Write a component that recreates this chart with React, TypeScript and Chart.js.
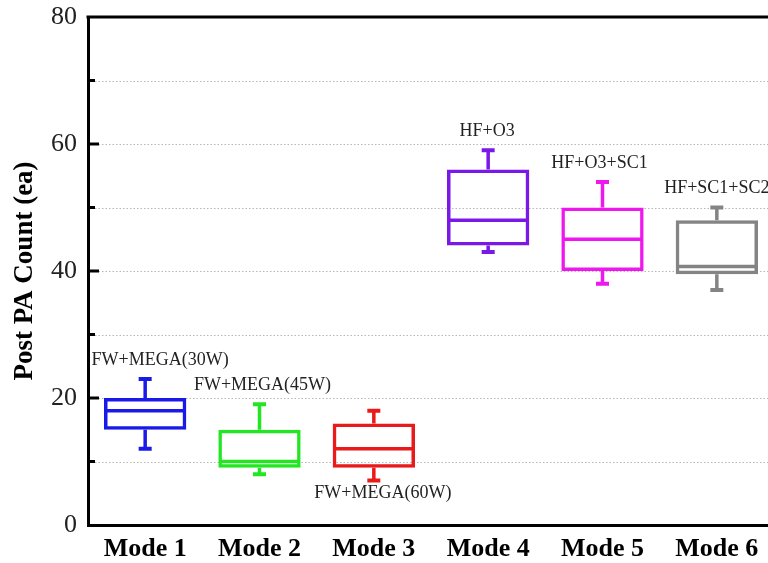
import React, { useEffect, useRef } from "react";
import { Chart, registerables } from "chart.js";

Chart.register(...registerables);

const categories = ["Mode 1", "Mode 2", "Mode 3", "Mode 4", "Mode 5", "Mode 6"];
const groupLabels = ["FW+MEGA(30W)", "FW+MEGA(45W)", "FW+MEGA(60W)", "HF+O3", "HF+O3+SC1", "HF+SC1+SC2"];
const whiskerLow = [12, 8, 7, 43, 38, 37];
const quartile1 = [15, 9, 9, 44, 40, 39.5];
const medians = [18, 10, 12, 48, 45, 40.7];
const quartile3 = [20, 15, 16, 56, 50, 48];
const whiskerHigh = [23, 19, 18, 59, 54, 50];
const colors = ["#1a1ae8", "#22e622", "#e81a1a", "#7a18e8", "#ee18ee", "#848484"];
const gridValues = [10, 20, 30, 40, 50, 60, 70];
const majorTicks = [20, 40, 60];

// label placement: above (true) or below (false) the whiskers, with small x nudges (px)
const labelAbove = [true, true, false, true, true, true];
const labelNudgeX = [15, 3, 9, -1, -3, 0];

const boxExtras = {
  id: "boxExtras",
  beforeDatasetsDraw(chart: any) {
    const { ctx, chartArea, scales } = chart;
    const y = scales.y;
    ctx.save();
    ctx.strokeStyle = "rgba(170,170,170,0.85)";
    ctx.lineWidth = 1;
    ctx.setLineDash([1.5, 2]);
    gridValues.forEach((v) => {
      const py = Math.round(y.getPixelForValue(v)) + 0.5;
      ctx.beginPath();
      ctx.moveTo(chartArea.left, py);
      ctx.lineTo(chartArea.right, py);
      ctx.stroke();
    });
    ctx.restore();
  },
  afterDatasetsDraw(chart: any) {
    const { ctx, scales } = chart;
    const x = scales.x;
    const y = scales.y;
    const meta = chart.getDatasetMeta(0);
    ctx.save();
    ctx.setLineDash([]);
    ctx.lineCap = "butt";
    categories.forEach((_, i) => {
      const bar = meta.data[i];
      const cx = x.getPixelForValue(i);
      const half = bar.width / 2;
      ctx.strokeStyle = colors[i];
      ctx.lineWidth = 3.5;
      const pm = y.getPixelForValue(medians[i]);
      ctx.beginPath();
      ctx.moveTo(cx - half + 2, pm);
      ctx.lineTo(cx + half - 2, pm);
      ctx.stroke();
      const pHi = y.getPixelForValue(whiskerHigh[i]);
      const pQ3 = y.getPixelForValue(quartile3[i]);
      const pLo = y.getPixelForValue(whiskerLow[i]);
      const pQ1 = y.getPixelForValue(quartile1[i]);
      ctx.beginPath();
      ctx.moveTo(cx, pQ3);
      ctx.lineTo(cx, pHi);
      ctx.moveTo(cx, pQ1);
      ctx.lineTo(cx, pLo);
      ctx.stroke();
      ctx.lineWidth = 4;
      ctx.beginPath();
      ctx.moveTo(cx - 6.5, pHi);
      ctx.lineTo(cx + 6.5, pHi);
      ctx.moveTo(cx - 6.5, pLo);
      ctx.lineTo(cx + 6.5, pLo);
      ctx.stroke();
      ctx.fillStyle = "#222";
      ctx.font = "18px 'Liberation Serif'";
      ctx.textAlign = "center";
      ctx.textBaseline = "middle";
      const ly = labelAbove[i] ? pHi - 19 : pLo + 13;
      ctx.fillText(groupLabels[i], cx + labelNudgeX[i], ly);
    });
    ctx.restore();
  },
  afterDraw(chart: any) {
    const { ctx, chartArea, scales } = chart;
    const y = scales.y;
    ctx.save();
    ctx.strokeStyle = "#000";
    ctx.lineWidth = 3;
    ctx.beginPath();
    ctx.moveTo(chartArea.left - 1.5, chartArea.top);
    ctx.lineTo(chartArea.right + 10, chartArea.top);
    ctx.stroke();
    gridValues.forEach((v) => {
      const py = y.getPixelForValue(v);
      const len = majorTicks.includes(v) ? 11 : 7;
      ctx.beginPath();
      ctx.moveTo(chartArea.left, py);
      ctx.lineTo(chartArea.left + len, py);
      ctx.stroke();
    });
    ctx.restore();
  },
};

export default function App() {
  const ref = useRef<HTMLCanvasElement | null>(null);
  useEffect(() => {
    if (!ref.current) return;
    const chart = new Chart(ref.current, {
      type: "bar",
      data: {
        labels: categories,
        datasets: [
          {
            data: categories.map((_, i) => [quartile1[i], quartile3[i]]) as any,
            backgroundColor: "rgba(255,255,255,0)",
            borderColor: colors,
            borderWidth: 3.5,
            borderSkipped: false,
            barPercentage: 0.72,
            categoryPercentage: 1,
          },
        ],
      },
      options: {
        animation: false,
        responsive: false,
        maintainAspectRatio: false,
        layout: { padding: { top: 17, right: 2, left: 0, bottom: 0 } },
        plugins: { legend: { display: false }, tooltip: { enabled: false } },
        scales: {
          x: {
            grid: { display: false, drawTicks: false },
            border: { display: true, color: "#000", width: 3 },
            ticks: {
              color: "#000",
              padding: 9,
              font: { family: "'Liberation Serif'", size: 26, weight: "bold" },
            },
            afterFit: (s: any) => {
              s.height = 38;
              s.paddingLeft = 0;
              s.paddingRight = 0;
            },
          },
          y: {
            min: 0,
            max: 80,
            grid: { display: false, drawTicks: false },
            border: { display: true, color: "#000", width: 3 },
            ticks: {
              stepSize: 20,
              color: "#222",
              padding: 11,
              font: { family: "'Liberation Serif'", size: 26 },
            },
            title: {
              display: true,
              text: "Post PA Count (ea)",
              color: "#000",
              padding: { top: 9, bottom: 0 },
              font: { family: "'Liberation Serif'", size: 27, weight: "bold" },
            },
            afterFit: (s: any) => {
              s.width = 88;
              s.paddingTop = 0;
              s.paddingBottom = 0;
            },
          },
        },
      },
      plugins: [boxExtras],
    });
    return () => chart.destroy();
  }, []);
  return (
    <div style={{ position: "absolute", left: 0, top: 0, width: 776, height: 563, overflow: "hidden", background: "#fff" }}>
      <canvas ref={ref} width={776} height={563} style={{ display: "block", width: 776, height: 563 }} />
    </div>
  );
}
